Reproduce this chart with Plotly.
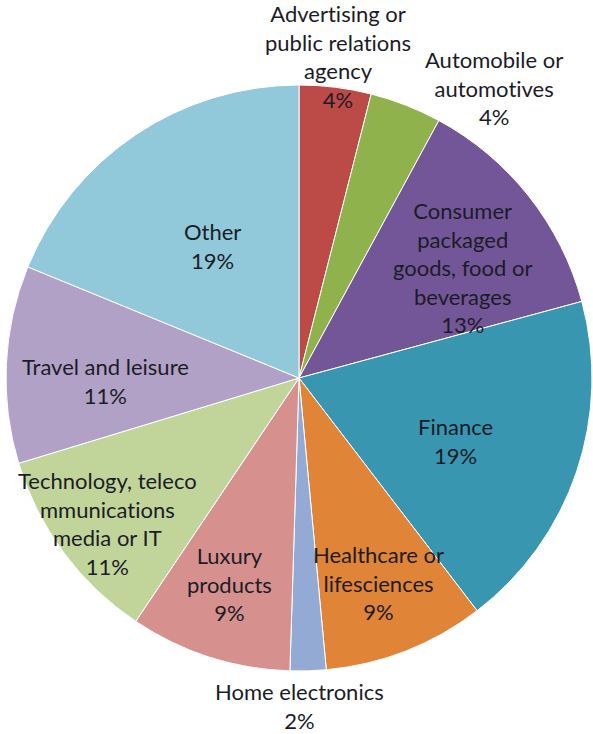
import plotly.graph_objects as go

# Share of respondents by industry sector (percent)
sectors = [
    "Advertising or public relations agency",
    "Automobile or automotives",
    "Consumer packaged goods, food or beverages",
    "Finance",
    "Healthcare or lifesciences",
    "Home electronics",
    "Luxury products",
    "Technology, telecommunications media or IT",
    "Travel and leisure",
    "Other",
]
shares = [4, 4, 13, 19, 9, 2, 9, 11, 11, 19]

# Wrapped versions of the sector names used for the data labels
label_lines = [
    ["Advertising or", "public relations", "agency"],
    ["Automobile or", "automotives"],
    ["Consumer", "packaged", "goods, food or", "beverages"],
    ["Finance"],
    ["Healthcare or", "lifesciences"],
    ["Home electronics"],
    ["Luxury", "products"],
    ["Technology, teleco", "mmunications", "media or IT"],
    ["Travel and leisure"],
    ["Other"],
]

colors = [
    "#BC4A46", "#8FB24C", "#735697", "#3996B1", "#E08438",
    "#93AAD5", "#D6918F", "#C1D59A", "#B1A1C6", "#91C9DA",
]

# Label centres in pixels (x from left, y from top) of the 593x734 canvas
W, H = 593, 734
label_pos = [
    (338, 57), (494, 88), (462, 267), (455, 441), (378, 583),
    (299, 706), (229, 584), (107, 523), (105, 381), (212, 246),
]

cx, cy, r = 299, 378, 293

fig = go.Figure(
    go.Pie(
        labels=sectors,
        values=shares,
        sort=False,
        direction="clockwise",
        rotation=0,
        marker=dict(colors=colors, line=dict(color="white", width=1)),
        textinfo="none",
        hoverinfo="label+percent",
        showlegend=False,
        domain=dict(
            x=[(cx - r) / W, (cx + r) / W],
            y=[(H - cy - r) / H, (H - cy + r) / H],
        ),
    )
)

for lines, val, (px, py) in zip(label_lines, shares, label_pos):
    body = "<br>".join(lines + [f"{val}%"])
    fig.add_annotation(
        x=px / W,
        y=1 - py / H,
        xref="paper",
        yref="paper",
        xanchor="center",
        yanchor="middle",
        text=f'<span style="font-variant-ligatures:none">{body}</span>',
        showarrow=False,
        align="center",
        font=dict(family="Lato", size=22, color="#1c1c26"),
    )

fig.update_layout(
    width=W,
    height=H,
    margin=dict(l=0, r=0, t=0, b=0),
    paper_bgcolor="white",
    plot_bgcolor="white",
)

fig.write_html("out.html")
